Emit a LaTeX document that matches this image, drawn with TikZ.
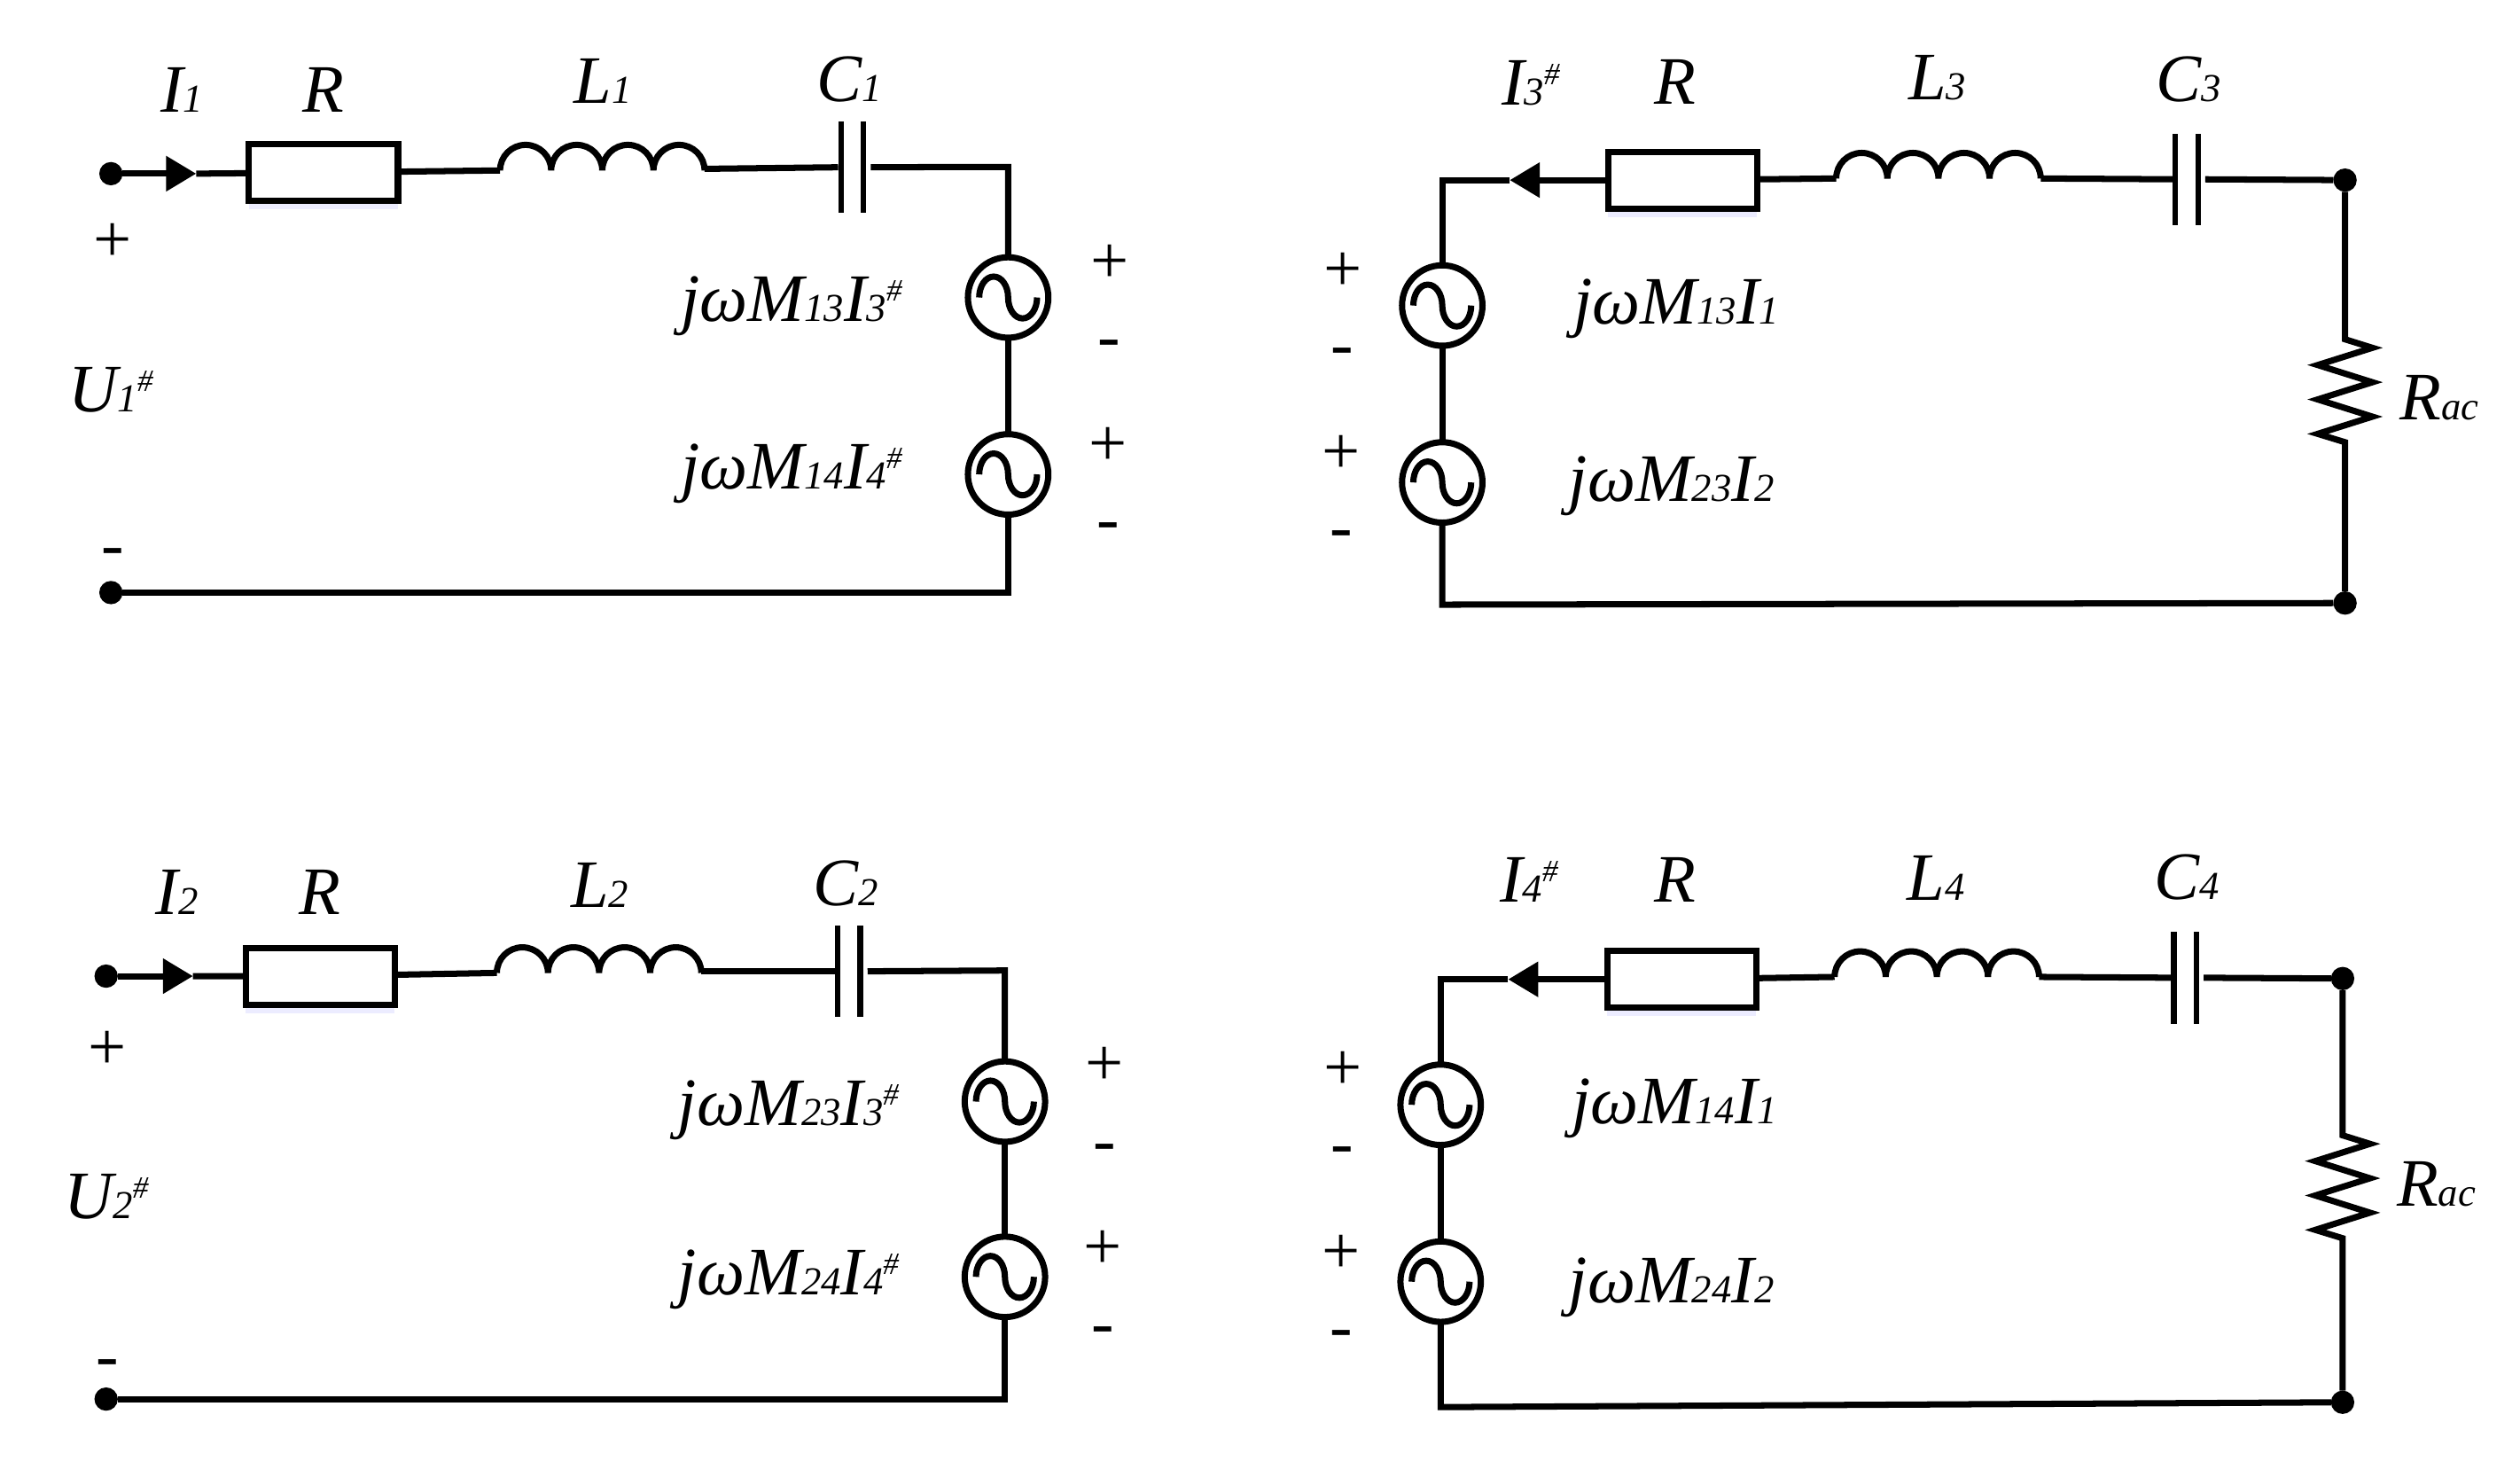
\documentclass[tikz,border=0pt]{standalone}
\usepackage{fontspec}
\setmainfont{Liberation Serif}
\usetikzlibrary{arrows.meta, shadows}
\newcommand{\sbs}[1]{{\fontsize{7}{7}\selectfont #1}}
\newcommand{\sps}{\raisebox{3.6pt}{\fontsize{5.5}{6}\selectfont\#}}
\tikzset{
    wire/.style={line width=1.1pt},
    lab/.style={font=\fontsize{12}{13}\selectfont\itshape, inner sep=0pt, anchor=base},
    labw/.style={lab, anchor=base west},
    sign/.style={font=\fontsize{12}{13}\selectfont, inner sep=0pt},
    term/.style={circle, fill=black, inner sep=0pt, outer sep=0pt, minimum size=0.145cm},
    resbox/.style={rectangle, draw, line width=1.1pt, fill=white, minimum width=0.926cm, minimum height=0.353cm, inner sep=0pt, outer sep=0pt,
        drop shadow={shadow xshift=0pt, shadow yshift=-1.5pt, fill=blue!12, opacity=0.6}},
    plate/.style={rectangle, fill=black, minimum width=0.035cm, minimum height=0.57cm, inner sep=0pt, outer sep=0pt},
    hump/.style={start angle=180, end angle=360, radius=15.9},
    source/.style={circle, draw, line width=1.1pt, minimum size=0.5cm, inner sep=0pt, outer sep=0pt,
        path picture={\draw[line width=1.1pt, shift={(path picture bounding box.center)}] (-18,0)
            arc[start angle=180, end angle=360, x radius=9, y radius=13]
            arc[start angle=180, end angle=0, x radius=9, y radius=13];}},
    zig/.style={to path={-- ++(17,5.3) -- ++(-34,10.7) -- ++(34,10.7) -- ++(-34,10.7) -- ++(34,10.7) -- ++(-34,10.7) -- (\tikztotarget)}},
    tip/.style={-{Triangle[length=5.3pt, width=6pt]}}
}
\begin{document}
\begin{tikzpicture}[x=0.01cm, y=-0.01cm]
    \useasboundingbox (0,0) rectangle (1567.3,913);

    % Circuit 1
    \node[term] (T1a) at (69,108) {};
    \coordinate (A1) at (122,108);
    \node[resbox] (R1) at (201.2,107.3) {};
    \coordinate (L1a) at (311,106);
    \coordinate (L1b) at (438.2,105);
    \node[plate] (C1a) at (523,104) {};
    \node[plate] (C1b) at (537,104) {};
    \coordinate (K1a) at (627,103.8);
    \node[source] (S1a) at (627,185) {};
    \node[source] (S1b) at (627,295) {};
    \coordinate (K1b) at (627,368.5);
    \node[term] (T1b) at (69,368.5) {};
    \draw[wire, tip] (T1a) -- (A1);
    \draw[wire] (A1) -- (R1) (R1) -- (L1a);
    \draw[wire] (L1a) foreach \k in {1,...,4} {arc[hump]};
    \draw[wire] (L1b) -- (C1a);
    \draw[wire] ([xshift=1.3pt]C1b.center) -- (K1a) -- (S1a);
    \draw[wire] (S1a) -- (S1b);
    \draw[wire] (S1b) -- (K1b) -- (T1b);
    \node[lab] (I1) at (113,69.5) {I\sbs{1}};
    \node[lab] (Rn1) at (201,69.5) {R};
    \node[lab] (Ln1) at (375,64) {L\sbs{1}};
    \node[lab] (Cn1) at (528,63) {C\sbs{1}};
    \node[lab] (U1) at (69,256) {U\sbs{1}\sps};
    \node[labw] (E1a) at (423,200) {jωM\sbs{13}I\sbs{3}\sps};
    \node[labw] (E1b) at (423,304) {jωM\sbs{14}I\sbs{4}\sps};

    % Circuit 2
    \node[term] (T2a) at (66,607) {};
    \coordinate (A2) at (120,607);
    \node[resbox] (R2) at (199.2,607) {};
    \coordinate (L2a) at (309,605);
    \coordinate (L2b) at (436.2,604);
    \node[plate] (C2a) at (521,604) {};
    \node[plate] (C2b) at (535,604) {};
    \coordinate (K2a) at (625,603.5);
    \node[source] (S2a) at (625,685) {};
    \node[source] (S2b) at (625,794) {};
    \coordinate (K2b) at (625,870);
    \node[term] (T2b) at (66,870) {};
    \draw[wire, tip] (T2a) -- (A2);
    \draw[wire] (A2) -- (R2) (R2) -- (L2a);
    \draw[wire] (L2a) foreach \k in {1,...,4} {arc[hump]};
    \draw[wire] (L2b) -- (C2a);
    \draw[wire] ([xshift=1.3pt]C2b.center) -- (K2a) -- (S2a);
    \draw[wire] (S2a) -- (S2b);
    \draw[wire] (S2b) -- (K2b) -- (T2b);
    \node[lab] (I2) at (110,568.5) {I\sbs{2}};
    \node[lab] (Rn2) at (199,568.5) {R};
    \node[lab] (Ln2) at (373,564) {L\sbs{2}};
    \node[lab] (Cn2) at (526,563) {C\sbs{2}};
    \node[lab] (U2) at (66,758) {U\sbs{2}\sps};
    \node[labw] (E2a) at (421,700) {jωM\sbs{23}I\sbs{3}\sps};
    \node[labw] (E2b) at (421,805) {jωM\sbs{24}I\sbs{4}\sps};

    % Circuit 3
    \coordinate (K3a) at (897,112);
    \coordinate (A3) at (939,112);
    \node[resbox] (R3) at (1046.5,112) {};
    \coordinate (L3a) at (1142,111);
    \coordinate (L3b) at (1269.2,111);
    \node[plate] (C3a) at (1353,111.5) {};
    \node[plate] (C3b) at (1367,111.5) {};
    \node[term] (T3a) at (1458.5,112) {};
    \coordinate (Z3a) at (1458.5,211);
    \coordinate (Z3b) at (1458.5,275);
    \node[term] (T3b) at (1458.5,375) {};
    \coordinate (K3b) at (897,376);
    \node[source] (S3a) at (897,190) {};
    \node[source] (S3b) at (897,300) {};
    \draw[wire, tip] (R3) -- (A3);
    \draw[wire] (A3) -- (K3a) -- (S3a);
    \draw[wire] (S3a) -- (S3b);
    \draw[wire] (S3b) -- (K3b) -- (T3b);
    \draw[wire] (L3a) -- (R3);
    \draw[wire] (L3a) foreach \k in {1,...,4} {arc[hump]};
    \draw[wire] (L3b) -- (C3a);
    \draw[wire] ([xshift=1.3pt]C3b.center) -- (T3a);
    \draw[wire] (T3a) -- (Z3a) to[zig] (Z3b) -- (T3b);
    \node[lab] (I3) at (952,65.5) {I\sbs{3}\sps};
    \node[lab] (Rn3) at (1042,65) {R};
    \node[lab] (Ln3) at (1205,62) {L\sbs{3}};
    \node[lab] (Cn3) at (1361,63) {C\sbs{3}};
    \node[labw] (E3a) at (978,201.5) {jωM\sbs{13}I\sbs{1}};
    \node[labw] (E3b) at (975,312) {jωM\sbs{23}I\sbs{2}};
    \node[labw] (Rc3) at (1492,261) {R\sbs{ac}};

    % Circuit 4
    \coordinate (K4a) at (896,609);
    \coordinate (A4) at (938,609);
    \node[resbox] (R4) at (1046,609) {};
    \coordinate (L4a) at (1141,607.5);
    \coordinate (L4b) at (1268.2,607.5);
    \node[plate] (C4a) at (1352,608) {};
    \node[plate] (C4b) at (1366,608) {};
    \node[term] (T4a) at (1457,608.5) {};
    \coordinate (Z4a) at (1457,706);
    \coordinate (Z4b) at (1457,770);
    \node[term] (T4b) at (1457,872) {};
    \coordinate (K4b) at (896,875);
    \node[source] (S4a) at (896,687) {};
    \node[source] (S4b) at (896,797) {};
    \draw[wire, tip] (R4) -- (A4);
    \draw[wire] (A4) -- (K4a) -- (S4a);
    \draw[wire] (S4a) -- (S4b);
    \draw[wire] (S4b) -- (K4b) -- (T4b);
    \draw[wire] (L4a) -- (R4);
    \draw[wire] (L4a) foreach \k in {1,...,4} {arc[hump]};
    \draw[wire] (L4b) -- (C4a);
    \draw[wire] ([xshift=1.3pt]C4b.center) -- (T4a);
    \draw[wire] (T4a) -- (Z4a) to[zig] (Z4b) -- (T4b);
    \node[lab] (I4) at (951,561) {I\sbs{4}\sps};
    \node[lab] (Rn4) at (1042,561) {R};
    \node[lab] (Ln4) at (1204,560) {L\sbs{4}};
    \node[lab] (Cn4) at (1360,559.5) {C\sbs{4}};
    \node[labw] (E4a) at (977,699) {jωM\sbs{14}I\sbs{1}};
    \node[labw] (E4b) at (975,810) {jωM\sbs{24}I\sbs{2}};
    \node[labw] (Rc4) at (1490,750) {R\sbs{ac}};

    % Polaridades
    \foreach \px/\py/\sg [count=\i] in {70/151/+, 70/347/-, 690/164/+, 690/217/-, 689/278/+, 689/331/-,
        67/653/+, 67/851/-, 687/663/+, 687/717/-, 686/777/+, 686/831/-,
        835/169/+, 835/222/-, 834/283/+, 834/336/-,
        835/666/+, 835/719/-, 834/780/+, 834/833/-}
        \node[sign] (pol\i) at (\px,\py) {\sg};
\end{tikzpicture}
\end{document}
